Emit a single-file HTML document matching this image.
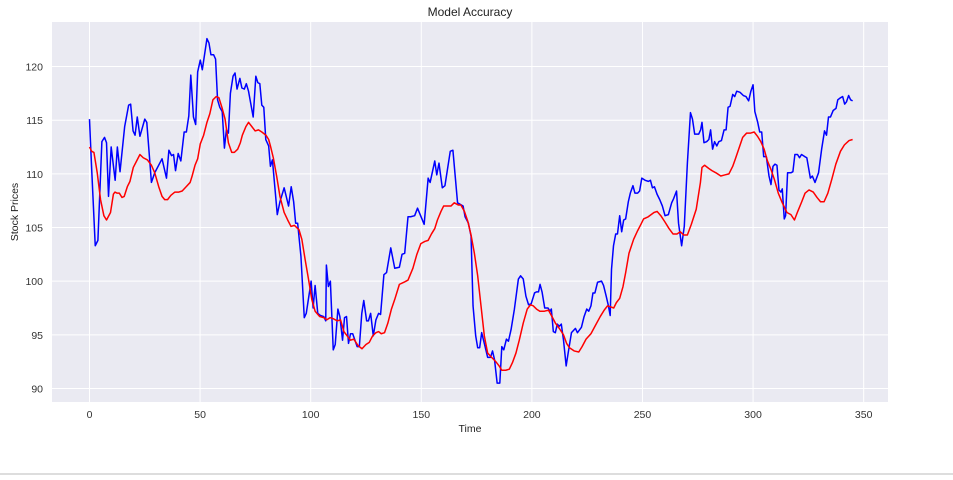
<!DOCTYPE html>
<html><head><meta charset="utf-8">
<style>
body{margin:0;background:#fff;width:953px;height:475px;overflow:hidden;font-family:"Liberation Sans","DejaVu Sans",sans-serif;}
#wrap{position:relative;width:953px;height:475px;}
#bl{position:absolute;left:0;top:473px;width:953px;height:2px;background:#ddd;}
</style></head>
<body>
<div id="wrap">
<svg id="chart" width="953" height="475"></svg>
<div id="bl"></div>
</div>
<script>
const xTicks=[0,50,100,150,200,250,300,350];
const yTicks=[90,95,100,105,110,115,120];
const actualT=[0,1,2.6,3.8,5.6,6.8,7.7,8.6,9.8,11.6,12.6,13.8,15.9,17.7,18.6,19.7,20.6,21.6,22.8,25,25.9,28,29.5,32.8,34.8,35.9,37.1,38,38.9,40.1,41.3,42.8,43.8,44.9,45.8,47,48,48.9,50.1,51,53.1,54,54.9,56.1,57,57.9,58.9,60,61,61.9,62.8,63.7,64.9,65.8,66.7,68,68.9,70,70.9,71.9,74,75.2,76.1,77,77.9,78.8,79.7,81,81.8,82.7,84.9,86.1,88,90,91.2,92.3,93.2,94.1,95.6,97.1,98,100.2,101.1,102,103.2,104.4,105.9,106.8,107.1,108,108.9,110.2,111.1,112.3,113.2,114.4,115.3,116.2,117.1,118,119,121,122,123.1,124,125.3,126.1,127.1,128.3,129.5,130.7,131.6,133.1,134.3,136.2,138,140.1,141.3,142.5,144,145.2,147,148.3,151.3,153.1,154,156.1,157,158,159.5,160.7,163.1,164.3,166.4,168.9,169.8,171.3,172.5,173.4,174.6,175.5,176.4,177.3,178.5,180,181.3,182.2,183.1,184.3,185.5,186.4,187.3,188.5,189.4,190.6,192.1,193.9,194.9,196.1,197.3,198.5,199.7,201.2,202.1,203,203.7,204.6,205.8,207.3,208.2,208.8,209.7,210.6,211.5,212.4,213.3,214.3,215.5,216.4,217.9,218.8,219.7,220.6,222.4,223.6,224.8,225.7,226.7,227.6,228.5,229.7,231.5,232.4,233.6,234.5,235.4,236,236.9,237.9,238.7,239.7,240.6,241.5,242.4,243.6,244.5,245.7,246.6,247.8,248.7,249.7,251.2,252.7,253.6,254.5,255.4,256.6,257.8,259,260.2,261.7,263.2,264.1,265.4,266.3,267.7,268.9,270.3,271.7,272.6,273.6,275.4,276.3,276.9,277.8,279,280,280.8,281.7,282.6,283.6,284.5,285.7,286.9,287.8,288.7,289.6,290.8,291.7,292.6,294.1,295.6,296.8,298,299,300,300.8,302.1,303,303.9,304.8,306,307.2,308.1,309,309.9,310.8,311.7,312.6,313.2,314.1,314.7,315.6,317.1,318,318.9,320.1,321,321.9,323.4,324.3,325.9,326.8,328,329.6,331,332.3,333.2,334.1,335,336.2,337.5,338.3,339.6,340.5,341.4,342.2,343.2,344.1,345];
const actualV=[115.1,110.4,103.3,103.8,113,113.4,112.9,107.9,112.5,109.4,112.5,110.2,114.4,116.4,116.5,114,113.6,115.3,113.5,115.1,114.8,109.2,110.1,111.4,109.6,112.2,111.7,111.8,110.3,111.9,111.2,113.9,113.9,115.4,119.2,115.3,114.6,119.5,120.6,119.7,122.6,122.2,121.1,121.1,120.7,116.9,116.2,115.8,112.4,114.1,113.8,117.5,119.1,119.4,117.9,118.9,118,117.9,118.4,117.7,115.3,119.1,118.5,118.4,116.4,116.2,113.2,112.6,110.7,111.3,106.2,107.4,108.7,107,108.8,107.4,105.4,105.4,102.3,96.6,97,100,97.5,99.6,97,96.8,96.7,96.3,101.5,99.5,100,93.6,94.1,97.4,96.7,94.5,96.6,96.7,94.2,95.1,95.1,93.9,93.9,97,98.2,96.3,96.3,97,94.9,96.4,97,96.9,100.6,100.8,103.1,101.2,101.3,102.5,102.6,106,106,106.1,106.8,105.3,109.6,109.2,111.2,109.9,111,108.7,108.9,112.1,112.2,107.3,107,106,105.4,104.2,97.7,94.9,93.8,93.8,95.2,94.2,92.9,92.9,93.5,92.7,90.5,90.5,93.9,93.6,94.6,94.4,95.5,97.4,100.2,100.5,100.2,98.6,97.8,97.9,98.9,99,99,99.7,99,97.5,97.5,97.2,97.4,95.3,95.2,96,95.8,96,94.5,92.1,93.3,95.2,95.4,95.6,95.2,95.7,96.7,97.4,97.2,97.7,98.9,98.9,99.9,100,99.6,98.6,97.8,96.8,101.1,103.3,104.4,104.4,106.1,104.6,105.7,105.8,107.4,108.2,108.9,108.2,108.2,108.4,109.6,109.4,109.3,109.4,108.7,108.8,108.1,107.6,107,106.1,106.2,107.3,107.7,108.4,105.4,103.3,105.1,111,115.7,115.1,113.7,113.7,114.1,114.8,112.9,113,113.2,114.1,112.3,113,112.6,113,113.1,114.1,114.1,116.2,116.3,117.4,117.2,117.7,117.6,117.3,117.2,116.8,117.7,118.3,115.8,114.8,113.9,113.9,111.6,111.6,109.8,109,110.7,110.9,110.8,108.5,108.3,108.6,105.8,106.1,110.1,110.1,110.2,111.8,111.8,111.5,111.8,111.6,111.5,109.6,109.8,109.2,110.1,112.3,114,113.6,115.3,115.3,115.9,116.1,116.9,117.1,117.2,116.5,116.7,117.3,116.9,116.8];
const predT=[0,1,2,3.5,5,6.5,7.7,9.5,10.8,11.5,12.5,13.5,14.7,15.7,17.1,18.3,19.8,21.3,22.8,24.3,26.2,28,29.5,31.3,32.8,34,35.3,36.8,38.6,40.4,41.9,43.7,45.5,46.4,47.7,48.9,50.1,51.6,53.1,54.4,55.8,57.3,58.5,60,61.3,62.8,64.3,65.5,67,68.2,69.1,70.7,71.9,73.4,74.9,76.4,77.9,79.8,81,81.8,83.1,84.6,86.1,88,89.6,91.1,92.6,94.7,96,97.5,99,100.5,102,104.1,105.9,107.3,108.8,110.2,112,113.5,115,116.5,118,119.5,121.4,123.2,125,126.5,128,129.5,130.7,131.9,133.4,134.9,136.5,138,140.1,142.2,144,146.2,148,149.8,151.6,153.1,154.6,156.1,157.3,158.9,160.1,161.9,163.4,164.9,166.7,167.9,169.5,171,172.5,174,175.5,177,178.5,180,181.8,183.7,185.2,186.4,188.2,189.8,191.2,192.8,194.3,196.1,197.9,199.4,200.6,202.1,203.6,205.7,207.5,209.1,210.6,212.4,214.3,215.7,217,219.1,221.2,222.7,224.5,226.7,228.8,230.9,232.7,234.2,235.7,237,238.2,239.7,241.2,242.4,243.9,246,247.8,249.3,250.5,252.6,255.2,256.6,258.3,260.2,262,263.8,265.6,267.1,268.7,270.3,272.1,274.3,276.2,276.9,278.1,280,281.4,283.2,285.4,287.2,289.1,290.8,292,293.5,295.3,297.1,298.9,300.5,302,303.5,305,306.5,308.1,309.6,311.4,313.2,315.3,317.1,318.7,320.2,322,323.5,325.3,327.2,328.9,330.5,332.1,333.8,335.6,337.4,339.5,341.3,343.4,345];
const predV=[112.5,112.1,112,110.1,107.6,106.1,105.7,106.4,108.1,108.3,108.2,108.2,107.8,107.9,108.8,109.3,110.6,111.2,111.8,111.5,111.3,110.8,110.1,108.8,107.9,107.6,107.6,108,108.3,108.3,108.4,108.8,109.2,109.8,110.8,111.4,112.8,113.6,114.8,115.6,116.9,117.2,117.1,116.1,115.1,112.9,112,112,112.3,112.9,113.6,114.4,114.8,114.4,114,114.1,113.9,113.6,113.2,112.6,111.5,109.8,107.9,106.4,105.7,105.1,105.2,104.8,103.9,102,100.2,98.3,97.2,96.7,96.6,96.4,96.6,96.5,96.3,96.4,95.3,94.9,94.5,94.6,94,93.7,94.1,94.3,94.9,95.2,95.3,95.1,95.2,96.1,97.4,98.3,99.7,99.9,100.1,101.2,102.5,103.5,103.7,103.8,104.4,104.9,105.7,106.5,107,107,107,107.3,107.1,107.1,106.5,105.6,104.3,102.6,100.5,97.7,94.9,93.3,92.9,92.5,92.1,91.7,91.7,91.8,92.4,93.3,94.5,96.1,97.4,97.8,97.7,97.4,97.2,97.2,97.3,96.7,96.1,95.6,95,94.2,93.8,93.5,93.4,93.9,94.6,95.1,95.9,96.7,97.3,97.7,97.6,97.5,98,98.4,99.5,100.8,102.6,103.9,104.7,105.3,105.8,106,106.4,106.5,106.1,105.5,104.9,104.4,104.4,104.6,104.3,104.3,105.3,106.7,109.2,110.6,110.8,110.5,110.3,110.1,109.8,109.9,110,110.7,111.4,112.3,113.4,113.8,113.8,113.9,113.5,113,112.3,111.2,110.4,109.5,108.2,107.3,106.4,106.2,105.7,106.5,107.4,108.2,108.5,108.3,107.8,107.4,107.4,108.2,109.5,110.9,112.1,112.7,113.1,113.2];

const NS='http://www.w3.org/2000/svg';
const svg=document.getElementById('chart');
const L=52,T=22,R=888,B=402;
const X0=-16.95,X1=361.0,Y0=88.74,Y1=124.15;
function sx(v){return L+(v-X0)/(X1-X0)*(R-L);}
function sy(v){return B-(v-Y0)/(Y1-Y0)*(B-T);}
function mk(tag,attrs,parent){const e=document.createElementNS(NS,tag);for(const k in attrs)e.setAttribute(k,attrs[k]);(parent||svg).appendChild(e);return e;}

const bg=mk('rect',{x:L,y:T,width:R-L,height:B-T,fill:'#eaeaf2'});



xTicks.forEach(t=>{
  const g=mk('line',{x1:sx(t),x2:sx(t),y1:T,y2:B,stroke:'#fff','stroke-width':1});
  
  
  const lb=mk('text',{x:sx(t),y:418,'text-anchor':'middle','font-size':'10.5',fill:'#333'});
  lb.textContent=t;
  
  
});
yTicks.forEach(t=>{
  const g=mk('line',{x1:L,x2:R,y1:sy(t),y2:sy(t),stroke:'#fff','stroke-width':1});
  
  
  const lb=mk('text',{x:43,y:sy(t)+4,'text-anchor':'end','font-size':'10.5',fill:'#333'});
  lb.textContent=t;
  
  
});

function line(ts,vs,color,name){
  let d='';
  ts.forEach((t,i)=>{d+=(i?'L':'M')+sx(t).toFixed(2)+','+sy(vs[i]).toFixed(2);});
  const p=mk('path',{d:d,fill:'none',stroke:color,'stroke-width':1.5,'stroke-linejoin':'round'});
  
  
}
line(actualT,actualV,'#0000ff','actual-price-line');
line(predT,predV,'#ff0000','predicted-price-line');

const title=mk('text',{x:(L+R)/2,y:16,'text-anchor':'middle','font-size':'12',fill:'#222'});
title.textContent='Model Accuracy';


const xl=mk('text',{x:(L+R)/2,y:432,'text-anchor':'middle','font-size':'10.5',fill:'#222'});
xl.textContent='Time';


const yl=mk('text',{x:0,y:0,'text-anchor':'middle','font-size':'10.5',fill:'#222',transform:'translate(18,212) rotate(-90)'});
yl.textContent='Stock Prices';


</script>
</body></html>
